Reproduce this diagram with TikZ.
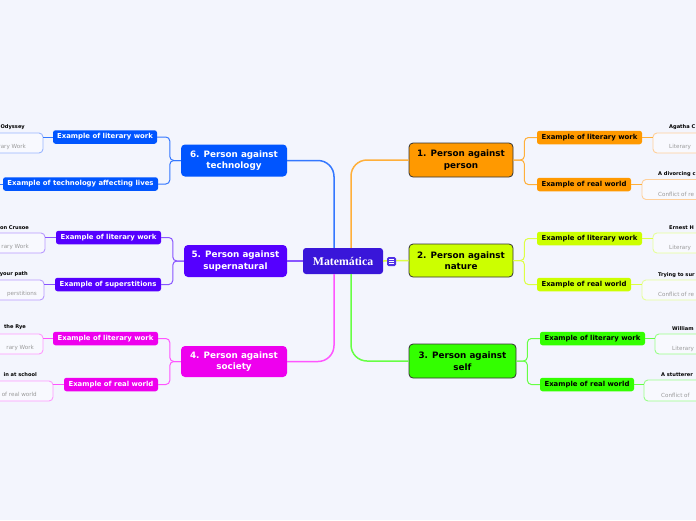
\documentclass[tikz,border=0pt]{standalone}
\usepackage{fontspec}
\setmainfont{DejaVu Sans}
\newfontfamily\cenfont{Liberation Serif}
\definecolor{bg}{HTML}{F3F5FD}
\definecolor{cen}{HTML}{3916D9}
\definecolor{icon}{HTML}{4F30E6}
\definecolor{orangeM}{HTML}{FF9900}\definecolor{orangeL}{HTML}{FFAF3A}\definecolor{orangeP}{HTML}{FFD09A}
\definecolor{limeM}{HTML}{CCFF00}\definecolor{limeL}{HTML}{DDFF44}\definecolor{limeP}{HTML}{E6FF99}
\definecolor{greenM}{HTML}{33FF00}\definecolor{greenL}{HTML}{66FF44}\definecolor{greenP}{HTML}{99FF88}
\definecolor{blueM}{HTML}{0055FF}\definecolor{blueL}{HTML}{3377FF}\definecolor{blueP}{HTML}{99B5FF}
\definecolor{purpleM}{HTML}{5500FF}\definecolor{purpleL}{HTML}{8855FF}\definecolor{purpleP}{HTML}{B899FF}
\definecolor{magM}{HTML}{EE00EE}\definecolor{magL}{HTML}{FF55FF}\definecolor{magP}{HTML}{FF99FF}
\definecolor{grayT}{HTML}{9A9A9A}
\begin{document}
\begin{tikzpicture}[x=1pt,y=-1pt,
  central/.style={fill=cen,rounded corners=3pt,minimum width=80pt,minimum height=26pt,inner sep=0pt,text=white,font=\cenfont\bfseries\fontsize{11.8}{12}\selectfont},
  mainL/.style={rounded corners=4pt,inner sep=0pt,align=center,text=white,font=\bfseries\fontsize{8.8}{11.5}\selectfont},
  mainR/.style={rounded corners=4pt,inner sep=0pt,align=center,text=black,draw=black!80,line width=0.8pt,font=\bfseries\fontsize{8.8}{11.5}\selectfont},
  subL/.style={rounded corners=2.5pt,inner sep=0pt,minimum height=13.5pt,text=white,font=\bfseries\fontsize{6.9}{8}\selectfont},
  subR/.style={rounded corners=2.5pt,inner sep=0pt,minimum height=13.5pt,text=black,font=\bfseries\fontsize{6.9}{8}\selectfont},
  kid/.style={rounded corners=4pt,inner sep=0pt,line width=0.9pt,fill=white!40!bg,minimum height=20pt},
  ktitle/.style={inner sep=0pt,font=\bfseries\fontsize{5.1}{6}\selectfont,text=black},
  knote/.style={inner sep=0pt,font=\fontsize{5.6}{6}\selectfont,text=grayT},
  conn/.style={line width=1.5pt},
  br/.style={line width=1pt,rounded corners=4pt},
  kl/.style={line width=0.9pt}
]
\useasboundingbox (0,0) rectangle (696,520);
\clip (0,0) rectangle (696,520);
\fill[bg] (0,0) rectangle (696,520);

% central
\node[central] (c) at (343,261) {Matemática};

% main nodes
\node[mainR,fill=orangeM,minimum width=104pt,minimum height=34pt] (n1) at (461,160) {1. Person against\\person};
\node[mainR,fill=limeM,minimum width=104pt,minimum height=33pt] (n2) at (461,260.5) {2. Person against\\nature};
\node[mainR,fill=greenM,minimum width=107pt,minimum height=34pt] (n3) at (462.5,361) {3. Person against\\self};
\node[mainL,fill=blueM,minimum width=106pt,minimum height=32pt] (n6) at (234,160.5) {6. Person against\\technology};
\node[mainL,fill=purpleM,minimum width=103pt,minimum height=32pt] (n5) at (235.5,261) {5. Person against\\supernatural};
\node[mainL,fill=magM,minimum width=106pt,minimum height=31pt] (n4) at (234,361.5) {4. Person against\\society};

% central connectors
\draw[conn,draw=orangeL,rounded corners=16pt] ([xshift=8pt]c.north) |- (n1.west);
\draw[conn,draw=blueL,rounded corners=16pt] ([xshift=-9pt]c.north) |- (n6.east);
\draw[conn,draw=greenL,rounded corners=16pt] ([xshift=8pt]c.south) |- (n3.west);
\draw[conn,draw=magL,rounded corners=16pt] ([xshift=-9pt]c.south) |- (n4.east);
\draw[conn,draw=limeL] (c.east) -- (n2.west);
\draw[conn,draw=purpleL] (n5.east) -- (c.west);

% icon
\node[fill=icon,rounded corners=1.5pt,minimum width=9pt,minimum height=9pt,inner sep=0pt] (ic) at (391.5,261.5) {};
\draw[white,line width=0.6pt] ([xshift=-2.5pt,yshift=2pt]ic.center) -- ([xshift=2.5pt,yshift=2pt]ic.center)
  ([xshift=-2.5pt]ic.center) -- ([xshift=2.5pt]ic.center)
  ([xshift=-2.5pt,yshift=-2pt]ic.center) -- ([xshift=2.5pt,yshift=-2pt]ic.center);

% sub nodes right
\node[subR,fill=orangeM,minimum width=105pt] (n1a) at (589.5,137.5) {Example of literary work};
\node[subR,fill=orangeM,minimum width=94pt] (n1b) at (584,184.5) {Example of real world};
\node[subR,fill=limeM,minimum width=105pt] (n2a) at (589.5,238.5) {Example of literary work};
\node[subR,fill=limeM,minimum width=94pt] (n2b) at (584,284.5) {Example of real world};
\node[subR,fill=greenM,minimum width=105pt] (n3a) at (592.5,338.5) {Example of literary work};
\node[subR,fill=greenM,minimum width=94pt] (n3b) at (587,384.5) {Example of real world};
% sub nodes left
\node[subL,fill=blueM,minimum width=104pt] (n6a) at (105,137) {Example of literary work};
\node[subL,fill=blueM,minimum width=155pt] (n6b) at (80.5,184) {Example of technology affecting lives};
\node[subL,fill=purpleM,minimum width=105pt] (n5a) at (108.5,237.5) {Example of literary work};
\node[subL,fill=purpleM,minimum width=106pt] (n5b) at (108,284.5) {Example of superstitions};
\node[subL,fill=magM,minimum width=105pt] (n4a) at (105.5,338.5) {Example of literary work};
\node[subL,fill=magM,minimum width=94pt] (n4b) at (111,384.5) {Example of real world};

% brackets
\foreach \m/\a/\b/\col in {n1/n1a/n1b/orangeL,n2/n2a/n2b/limeL,n3/n3a/n3b/greenL}{
  \draw[br,draw=\col] (\m.east) -- ++(11pt,0) |- (\a.west);
  \draw[br,draw=\col] (\m.east) -- ++(11pt,0) |- (\b.west);
}
\foreach \m/\a/\b/\col in {n6/n6a/n6b/blueL,n5/n5a/n5b/purpleL,n4/n4a/n4b/magL}{
  \draw[br,draw=\col] (\m.west) -- ++(-11pt,0) |- (\a.east);
  \draw[br,draw=\col] (\m.west) -- ++(-11pt,0) |- (\b.east);
}

% child boxes right
\node[kid,draw=orangeP,minimum width=107pt] (k1a) at (706.5,143) {};
\node[kid,draw=orangeP,minimum width=118pt] (k1b) at (701,189.5) {};
\node[kid,draw=limeP,minimum width=107pt] (k2a) at (706.5,243) {};
\node[kid,draw=limeP,minimum width=118pt] (k2b) at (701,290) {};
\node[kid,draw=greenP,minimum width=107pt] (k3a) at (708.5,344) {};
\node[kid,draw=greenP,minimum width=118pt,minimum height=21pt] (k3b) at (703,390.5) {};
% child boxes left
\node[kid,draw=blueP,minimum width=103pt] (k6a) at (-8.5,143) {};
\node[kid,draw=purpleP,minimum width=105pt] (k5a) at (-7.5,243) {};
\node[kid,draw=purpleP,minimum width=104pt] (k5b) at (-8,290) {};
\node[kid,draw=magP,minimum width=103pt] (k4a) at (-8.5,344) {};
\node[kid,draw=magP,minimum width=113pt] (k4b) at (-3.5,391) {};
\coordinate (k6b) at (-12,184);

% child connectors
\draw[kl,draw=orangeL] (n1a.east) -- (n1a.east -| k1a.west);
\draw[kl,draw=orangeL] (n1b.east) -- (n1b.east -| k1b.west);
\draw[kl,draw=limeL] (n2a.east) -- (n2a.east -| k2a.west);
\draw[kl,draw=limeL] (n2b.east) -- (n2b.east -| k2b.west);
\draw[kl,draw=greenL] (n3a.east) -- (n3a.east -| k3a.west);
\draw[kl,draw=greenL] (n3b.east) -- (n3b.east -| k3b.west);
\draw[kl,draw=blueL] (n6a.west) -- (n6a.west -| k6a.east);
\draw[kl,draw=blueL] (n6b.west) -- (k6b);
\draw[kl,draw=purpleL] (n5a.west) -- (n5a.west -| k5a.east);
\draw[kl,draw=purpleL] (n5b.west) -- (n5b.west -| k5b.east);
\draw[kl,draw=magL] (n4a.west) -- (n4a.west -| k4a.east);
\draw[kl,draw=magL] (n4b.west) -- (n4b.west -| k4b.east);

% child texts right
\node[ktitle,anchor=west] (t1a) at (669,127.5) {Agatha C};
\node[knote,anchor=west] (g1a) at (669,147) {Literary};
\node[ktitle,anchor=west] (t1b) at (658,174) {A divorcing c};
\node[knote,anchor=west] (g1b) at (658,194) {Conflict of re};
\node[ktitle,anchor=west] (t2a) at (669,228) {Ernest H};
\node[knote,anchor=west] (g2a) at (669,248) {Literary};
\node[ktitle,anchor=west] (t2b) at (658,275) {Trying to sur};
\node[knote,anchor=west] (g2b) at (658,294.5) {Conflict of re};
\node[ktitle,anchor=west] (t3a) at (672,329) {William};
\node[knote,anchor=west] (g3a) at (672,348.5) {Literary};
\node[ktitle,anchor=west] (t3b) at (661,374.5) {A stutterer};
\node[knote,anchor=west] (g3b) at (661,395) {Conflict of};
% child texts left
\node[ktitle,anchor=east] (t6a) at (25,127.5) {Odyssey};
\node[knote,anchor=east] (g6a) at (26,147) {rary Work};
\node[ktitle,anchor=east] (t5a) at (29,228) {on Crusoe};
\node[knote,anchor=east] (g5a) at (29,247) {rary Work};
\node[ktitle,anchor=east] (t5b) at (28,274) {your path};
\node[knote,anchor=east] (g5b) at (37,294) {perstitions};
\node[ktitle,anchor=east] (t4a) at (26,327.5) {the Rye};
\node[knote,anchor=east] (g4a) at (34,348) {rary Work};
\node[ktitle,anchor=east] (t4b) at (37,374.5) {in at school};
\node[knote,anchor=east] (g4b) at (37,394.5) {of real world};
\end{tikzpicture}
\end{document}
